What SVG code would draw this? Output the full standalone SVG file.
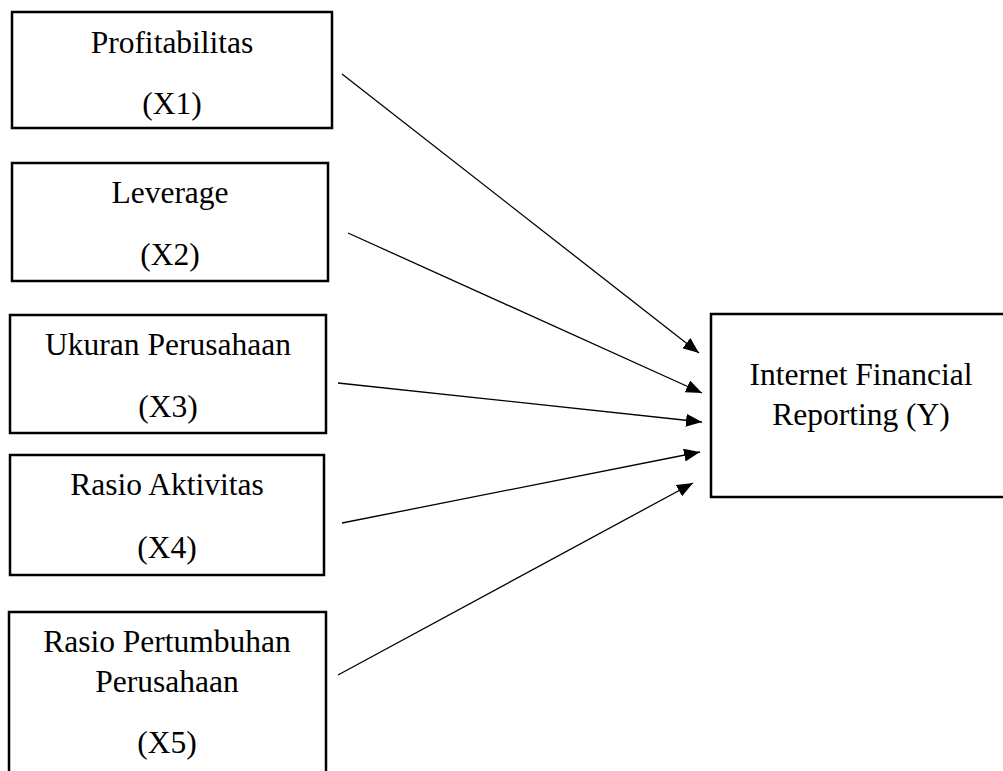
<svg xmlns="http://www.w3.org/2000/svg" width="1003" height="771" viewBox="0 0 1003 771">
<style>
.box{fill:#fff;stroke:#000;stroke-width:2.5}
.t{font-family:"Liberation Serif","Times New Roman",serif;font-size:31.5px;fill:#000;text-anchor:middle}
.c{stroke:#000;stroke-width:1.3;fill:none;marker-end:url(#ah)}
</style>
<defs>
<marker id="ah" markerUnits="userSpaceOnUse" markerWidth="17" markerHeight="14" refX="16" refY="6.5" orient="auto">
<path d="M0,0 L16,6.5 L0,13 z" fill="#000"/>
</marker>
</defs>
<rect width="1003" height="771" fill="#fff"/>
<g id="x1"><rect class="box" x="12" y="12" width="320" height="116"/><text class="t" x="172" y="53">Profitabilitas</text><text class="t" x="172" y="114">(X1)</text></g>
<g id="x2"><rect class="box" x="12" y="163" width="316" height="118"/><text class="t" x="170" y="203">Leverage</text><text class="t" x="170" y="265">(X2)</text></g>
<g id="x3"><rect class="box" x="10" y="315" width="316" height="118"/><text class="t" x="168" y="355">Ukuran Perusahaan</text><text class="t" x="168" y="417">(X3)</text></g>
<g id="x4"><rect class="box" x="10" y="455" width="314" height="120"/><text class="t" x="167" y="495">Rasio Aktivitas</text><text class="t" x="167" y="558">(X4)</text></g>
<g id="x5"><rect class="box" x="9" y="612" width="317" height="190"/><text class="t" x="167" y="652">Rasio Pertumbuhan</text><text class="t" x="167" y="692">Perusahaan</text><text class="t" x="167" y="753">(X5)</text></g>
<g id="y"><rect class="box" x="711" y="314" width="310" height="183"/><text class="t" x="861" y="385">Internet Financial</text><text class="t" x="861" y="425">Reporting (Y)</text></g>
<g id="connectors">
<line class="c" x1="342" y1="74" x2="699" y2="353"/>
<line class="c" x1="348" y1="233" x2="702" y2="393"/>
<line class="c" x1="338" y1="383" x2="702" y2="422"/>
<line class="c" x1="342" y1="523" x2="700" y2="452"/>
<line class="c" x1="338" y1="675" x2="693" y2="483"/>
</g>
</svg>
